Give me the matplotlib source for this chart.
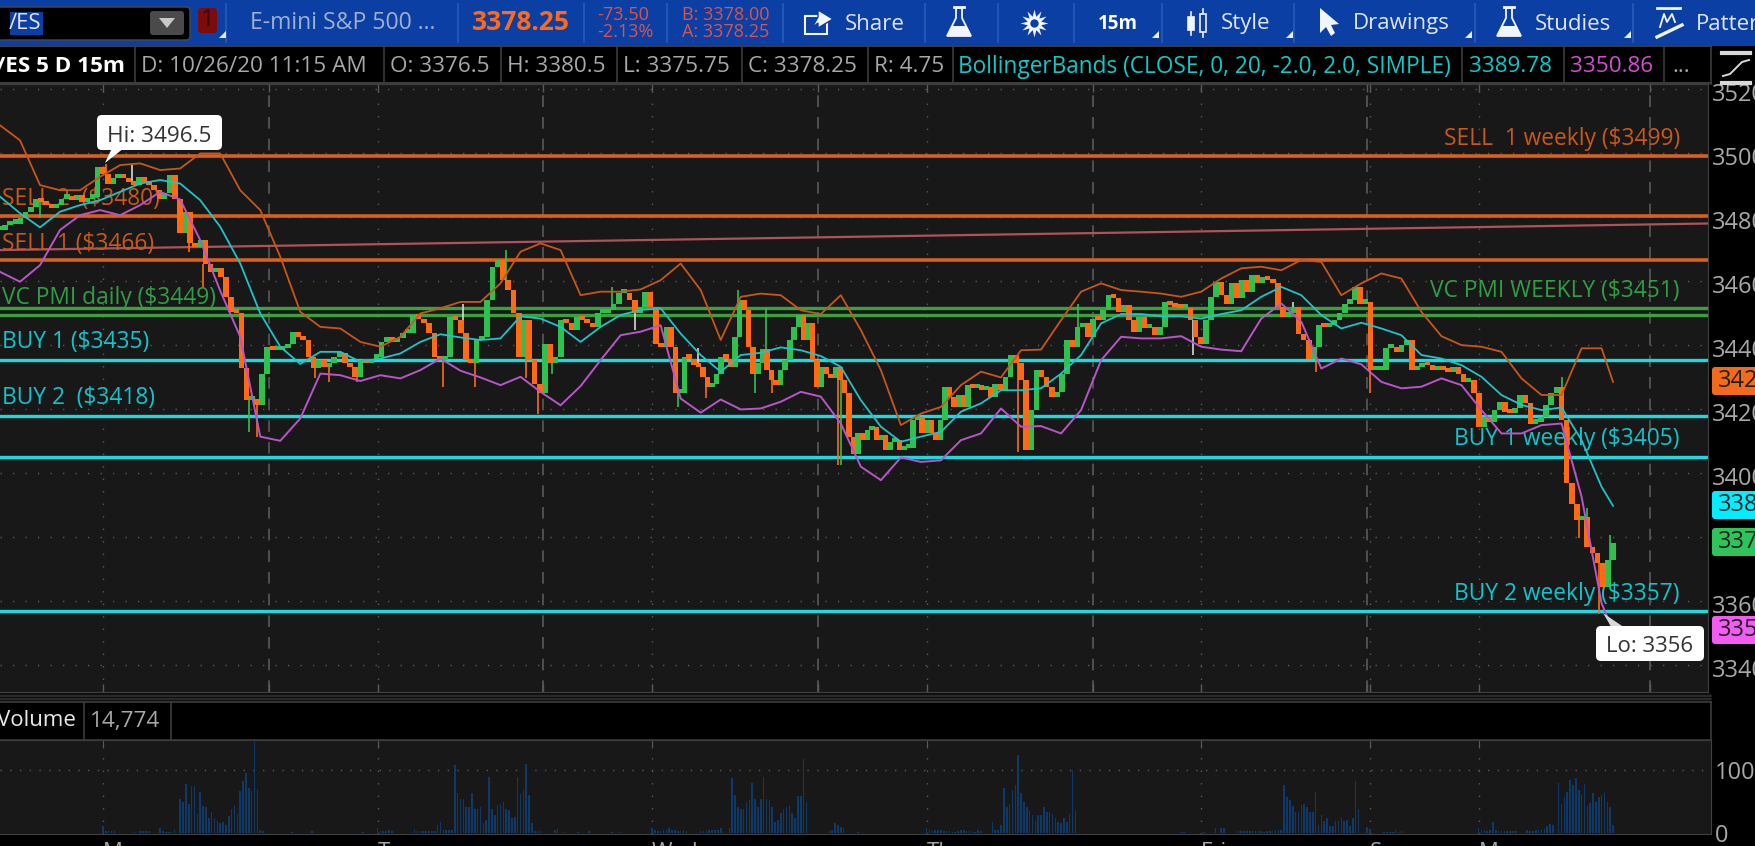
import numpy as np
import matplotlib
matplotlib.use("Agg")
import matplotlib.pyplot as plt
from matplotlib.patches import Rectangle, FancyBboxPatch, Polygon
from matplotlib.transforms import Affine2D, ScaledTranslation

plt.rcParams['font.family'] = ['Open Sans', 'DejaVu Sans']

# candle closes, one stretch of the chart per list (each spans seg_bars[i] to seg_bars[i+1])
seg_bars = [0, 115, 233, 348, 463, 564]
close_1 = [3476.0, 3477.5, 3478.0, 3478.0, 3479.6, 3481.7, 3483.2, 3485.8, 3484.8, 3483.75, 3482.7, 3483.75,
           3485.8, 3486.4, 3485.3, 3486.9, 3484.8, 3485.8, 3486.4, 3495.7, 3493.6, 3490.5, 3492.1, 3493.1,
           3492.1, 3491.0, 3490.0, 3492.6, 3491.0, 3490.0, 3488.4, 3485.8, 3487.4, 3493.1, 3485.8, 3474.9,
           3481.7, 3471.8, 3470.7, 3472.8, 3465.5, 3462.9, 3464.0, 3461.3, 3455.1, 3450.4, 3449.9, 3432.7,
           3422.8, 3423.3, 3421.2, 3431.1, 3439.5, 3438.4, 3438.4, 3439.0, 3440.5, 3444.2, 3442.6, 3441.6,
           3436.4, 3432.7, 3435.3, 3433.2]
close_2 = [3434.3, 3436.4, 3437.4, 3434.3, 3433.2, 3430.1, 3435.3, 3434.3, 3435.8, 3436.4, 3441.0, 3442.6,
           3441.0, 3442.1, 3443.7, 3443.7, 3449.4, 3448.3, 3446.8, 3443.7, 3436.4, 3435.3, 3436.4, 3448.9,
           3447.8, 3443.7, 3435.3, 3434.3, 3441.6, 3442.6, 3454.0, 3464.5, 3466.6, 3460.3, 3457.2, 3449.9,
           3436.4, 3447.8, 3435.3, 3428.0, 3424.9, 3440.5, 3434.3, 3436.4, 3447.8, 3446.8, 3444.7, 3448.9,
           3447.8, 3446.8, 3445.7, 3449.9, 3449.9, 3451.0, 3453.0, 3456.2, 3456.2, 3454.0, 3449.9, 3452.0,
           3456.7, 3452.0, 3440.5, 3439.5]
close_3 = [3445.7, 3439.5, 3424.9, 3424.9, 3436.4, 3435.8, 3433.7, 3433.2, 3430.1, 3427.0, 3428.0, 3431.1,
           3436.4, 3435.8, 3433.2, 3442.6, 3454.1, 3450.9, 3439.5, 3431.1, 3434.3, 3438.9, 3432.2, 3429.0,
           3427.5, 3432.2, 3435.3, 3441.6, 3445.7, 3449.4, 3441.6, 3446.8, 3435.3, 3427.0, 3433.2, 3431.1,
           3429.6, 3433.2, 3429.0, 3424.9, 3411.3, 3406.1, 3412.4, 3410.3, 3413.4, 3414.5, 3410.3, 3411.9,
           3407.2, 3409.8, 3410.3, 3407.2, 3407.7, 3407.7, 3416.6, 3417.6, 3412.4, 3416.6, 3412.4, 3410.3,
           3416.6, 3427.0, 3423.9, 3420.7, 3424.4, 3420.7, 3427.5, 3426.5, 3427.5, 3426.0, 3427.0, 3423.9]
close_4 = [3428.0, 3425.9, 3430.1, 3436.9, 3434.3, 3429.0, 3407.2, 3419.7, 3432.2, 3430.1, 3427.0, 3423.8,
           3425.4, 3431.1, 3441.6, 3439.5, 3445.7, 3446.8, 3442.6, 3448.3, 3447.8, 3450.9, 3455.6, 3454.6,
           3450.4, 3452.5, 3447.8, 3444.2, 3448.9, 3445.2, 3445.7, 3443.1, 3445.7, 3453.5, 3452.5, 3452.0,
           3451.5, 3451.5, 3447.8, 3442.6, 3440.5, 3447.8, 3455.1, 3459.8, 3455.6, 3453.0, 3459.3, 3454.6,
           3460.3, 3456.7, 3461.9, 3459.3, 3461.4, 3460.3, 3459.3, 3452.0, 3448.9, 3449.9, 3452.0, 3443.6,
           3441.6, 3435.8, 3439.5, 3446.2]
close_5 = [3445.7, 3446.25, 3447.8, 3449.9, 3453.0, 3454.1, 3458.2, 3453.0, 3453.5, 3432.2, 3432.2, 3432.2,
           3439.0, 3439.5, 3437.9, 3440.0, 3441.6, 3432.2, 3433.2, 3434.3, 3433.75, 3432.2, 3432.7, 3432.2,
           3431.7, 3433.2, 3431.1, 3428.5, 3429.1, 3424.9, 3414.5, 3417.6, 3416.0, 3419.7, 3422.3, 3419.2,
           3418.7, 3420.2, 3424.4, 3421.8, 3415.5, 3416.0, 3417.6, 3421.3, 3424.9, 3427.0, 3416.6, 3396.8,
           3390.5, 3385.3, 3386.4, 3377.0, 3374.9, 3371.8, 3364.5, 3372.8, 3378.25]

# long wicks: bar number and price reached
wick_orange_bars = [37, 66, 71, 90, 110, 115, 125, 155, 166, 184, 188, 247, 270, 293, 356, 375, 460, 479, 559, 552]
wick_orange_tips = [3496.5, 3469.2, 3458.2, 3411.3, 3429.6, 3428.5, 3428.5, 3427.0, 3427.0, 3429.6, 3418.6,
                    3423.6, 3424.9, 3402.5, 3406.7, 3439.5, 3431.7, 3424.9, 3356.0, 3379.6]
wick_green_bars = [14, 87, 177, 172, 193, 214, 237, 258, 264, 268, 294, 363, 377, 546, 555, 563]
wick_green_tips = [3479.6, 3412.9, 3469.7, 3458.2, 3431.0, 3458.2, 3420.7, 3457.2, 3424.9, 3451.5, 3402.5,
                   3419.7, 3453.0, 3430.1, 3389.0, 3380.6]
wick_white_bars = [46, 162, 222, 244, 417, 452]
wick_white_tips = [3496.25, 3453.0, 3444.6, 3439.0, 3436.9, 3453.5]

# bollinger bands, read every 7 bars plus the last bar
bb_bars = list(range(0, 561, 7)) + [564]
bb_upper = [3508.7, 3504.0, 3490.0, 3488.4, 3488.4, 3492.6, 3496.25, 3496.8, 3494.7, 3495.2, 3499.9, 3499.9,
            3488.4, 3482.2, 3467.6, 3450.4, 3445.7, 3445.2, 3441.0, 3439.5, 3442.6, 3449.9, 3451.5, 3453.5,
            3453.5, 3459.3, 3469.2, 3471.8, 3469.7, 3455.6, 3456.7, 3456.7, 3457.4, 3460.3, 3465.5, 3457.2,
            3441.6, 3455.1, 3456.1, 3455.6, 3450.9, 3449.7, 3455.6, 3444.7, 3432.2, 3415.0, 3418.6, 3420.7,
            3427.5, 3431.7, 3429.9, 3438.4, 3438.6, 3447.8, 3456.7, 3459.3, 3457.2, 3456.7, 3456.1, 3455.1,
            3456.7, 3460.8, 3464.0, 3464.5, 3463.4, 3466.6, 3466.0, 3455.6, 3459.3, 3462.4, 3460.8, 3450.4,
            3442.8, 3440.0, 3439.5, 3437.9, 3429.6, 3424.4, 3424.4, 3439.0, 3439.0, 3428.5]
bb_mid = [3486.4, 3481.2, 3476.8, 3481.7, 3483.75, 3485.3, 3487.9, 3490.5, 3491.6, 3490.5, 3485.3, 3477.0,
          3465.5, 3449.9, 3439.5, 3434.1, 3437.9, 3437.9, 3434.8, 3435.8, 3437.4, 3441.0, 3443.4, 3442.4,
          3441.6, 3442.1, 3449.0, 3448.3, 3445.7, 3441.0, 3445.7, 3449.4, 3451.0, 3451.5, 3443.6, 3436.9,
          3431.7, 3436.9, 3437.6, 3439.3, 3438.4, 3436.6, 3433.2, 3422.8, 3414.5, 3409.8, 3411.4, 3412.9,
          3419.2, 3421.8, 3425.9, 3425.9, 3426.5, 3431.1, 3436.9, 3446.8, 3449.7, 3449.7, 3449.0, 3449.0,
          3448.3, 3449.7, 3450.9, 3455.1, 3458.2, 3455.6, 3449.4, 3445.2, 3447.0, 3445.2, 3443.1, 3436.9,
          3435.8, 3433.75, 3430.1, 3424.4, 3421.3, 3419.7, 3420.5, 3410.3, 3395.7, 3389.78]
bb_lower = [3462.9, 3459.8, 3465.0, 3476.0, 3480.6, 3482.2, 3480.6, 3483.75, 3487.9, 3485.5, 3472.8, 3457.0,
            3442.6, 3411.4, 3410.1, 3417.1, 3431.1, 3430.6, 3428.8, 3430.6, 3429.6, 3432.2, 3435.8, 3432.0,
            3429.9, 3427.5, 3430.1, 3425.4, 3421.2, 3427.2, 3435.3, 3443.1, 3444.2, 3446.2, 3423.3, 3418.9,
            3423.0, 3419.9, 3420.2, 3422.3, 3425.4, 3423.9, 3415.5, 3402.0, 3397.8, 3404.9, 3403.5, 3404.0,
            3410.3, 3412.4, 3420.2, 3414.5, 3414.7, 3412.4, 3419.7, 3435.3, 3442.6, 3442.1, 3442.1, 3442.8,
            3439.5, 3438.6, 3438.1, 3448.3, 3453.0, 3447.3, 3432.7, 3435.8, 3434.0, 3428.5, 3426.5, 3427.0,
            3429.6, 3427.5, 3419.7, 3412.4, 3412.4, 3415.0, 3415.5, 3392.6, 3359.3, 3350.86]

# price levels drawn on the chart
sell_levels = [3499, 3480.5, 3466.5]
pmi_levels = [3451.5, 3449.5]
buy_levels = [3435.5, 3418, 3405, 3357]
trend_bars = [0, 597]
trend_prices = [3469.7, 3478.0]

# volume, each list starts at the matching bar in vol_starts
vol_starts = [36, 47, 56, 63, 102, 109, 118, 127, 132, 145, 153, 194, 197, 214, 228, 245,
              255, 290, 300, 324, 347, 376, 413, 421, 433, 478, 484, 517, 534, 545]
vol_lists = [[11, 3, 3, 3, 3], [2, 0, 3, 3, 3, 3], [8, 3, 2, 2, 2, 6],
             [55, 49, 78, 47, 75, 75, 30, 66, 43, 41, 24, 33, 24, 20, 17, 18, 13, 27, 38, 45, 30, 67, 83, 95, 71, 67, 145, 68, 6, 4],
             [2], [4], [1], [2],
             [9, 3, 3, 4, 5, 3], [5, 4, 3, 3, 3, 3, 3, 4],
             [13, 18, 6, 6, 6, 6, 108, 64, 55, 55, 41, 42, 64, 39, 39, 42, 16, 21, 89, 38, 29, 45, 47, 49, 38, 37, 24, 26, 89, 62, 68, 110, 60, 16, 3, 3, 3],
             [6, 7], [2, 0, 0, 0, 0, 2, 0, 0, 0, 4], [2, 0, 0, 2],
             [8, 6, 4, 4, 5, 5, 9, 5, 5, 4, 4, 5, 3], [4, 4, 4, 6, 6, 5, 6, 9],
             [9, 87, 60, 42, 38, 39, 50, 53, 79, 55, 42, 55, 89, 55, 53, 42, 18, 21, 32, 39, 42, 43, 32, 24, 59, 59, 118, 50],
             [3, 5, 16, 14, 10, 8], [2],
             [9, 5, 4, 5, 5, 6, 4, 3, 3, 2, 2, 3, 6, 6, 3, 3, 2, 2, 6, 3],
             [18, 5, 5, 13, 71, 42, 47, 68, 77, 124, 64, 50, 42, 36, 29, 20, 29, 29, 41, 33, 33, 30, 25, 18, 16, 24, 18, 30, 100, 37],
             [1], [2, 2, 1], [2, 0, 0, 0, 9, 0, 9, 8],
             [3, 3, 3, 3, 3, 3, 3, 3, 3, 2, 3, 3, 3, 6, 6, 6, 77, 58, 52, 43, 33, 33, 45, 47, 42, 34, 34, 66, 13, 29, 20, 24, 12, 12, 19, 19, 24, 19, 21, 12, 24, 83, 38],
             [10, 7], [2, 2, 2, 2, 5, 2, 3],
             [9, 6, 5, 4, 5, 18, 6, 4, 3, 3, 3, 3, 3, 3],
             [5, 3, 3, 6, 6, 5, 7, 12, 15, 13],
             [80, 47, 57, 66, 85, 76, 88, 68, 60, 78, 44, 48, 63, 50, 57, 60, 64, 50, 42, 13]]

day_bars = [36, 132, 228, 324, 420, 479, 517]
day_names = ['Mon', 'Tue', 'Wed', 'Thu', 'Fri', 'Sun', 'Mon']
noon_bars = [94, 190, 286, 382, 478, 577]
price_ticks = [3520, 3500, 3480, 3460, 3440, 3420, 3400, 3380, 3360, 3340]

ORANGE = '#ff6a13'
GREEN = '#30c050'
LEVEL_ORANGE = '#d8601a'
LEVEL_GREEN = '#3aa040'
CYAN = '#18dce0'
BG = '#181818'
GRID = '#5a5a5a'
FG = '#a8a8a8'
W, H = 1756, 846
BAR_PX = 2.86

fig = plt.figure(figsize=(W / 100, H / 100), dpi=100, facecolor='black')
pix = Affine2D().scale(1, -1).translate(0, H)


def box(l, t, r, b):
    return [l / W, 1 - b / H, (r - l) / W, (b - t) / H]


xlim = (0, 1708 / BAR_PX)
ax = fig.add_axes(box(0, 84, 1708, 692), facecolor=BG)
ax.set_xlim(xlim)
ax.set_ylim(3331.6, 3521.6)

# grid
for b in day_bars:
    ax.axvline(b, color=GRID, lw=1, ls=(0, (1, 8)), zorder=1)
for b in noon_bars:
    ax.axvline(b, color=GRID, lw=1.2, ls=(0, (7, 6)), zorder=1)
for p in price_ticks:
    ax.axhline(p, color=GRID, lw=1, ls=(0, (1, 8)), zorder=1)

# level lines
ax.plot(trend_bars, trend_prices, color='#b0525a', lw=1.6, zorder=2)
for p in sell_levels:
    ax.axhline(p, color=LEVEL_ORANGE, lw=2.6, zorder=2)
for p in pmi_levels:
    ax.axhline(p, color=LEVEL_GREEN, lw=2.4, zorder=2)
for p in buy_levels:
    ax.axhline(p, color=CYAN, lw=2.4, zorder=2)

# level labels
lab = dict(transform=pix, fontsize=16.4, va='center', zorder=2.5)
ax.text(1680, 139, 'SELL  1 weekly ($3499)', color='#c9581a', ha='right', **lab)
ax.text(1680, 291, 'VC PMI WEEKLY ($3451)', color='#2f9e44', ha='right', **lab)
ax.text(1680, 439, 'BUY 1 weekly ($3405)', color='#12c4cc', ha='right', **lab)
ax.text(1680, 594, 'BUY 2 weekly ($3357)', color='#12c4cc', ha='right', **lab)
ax.text(2, 199, 'SELL 2  ($3480)', color='#c9581a', ha='left', **lab)
ax.text(2, 244, 'SELL 1 ($3466)', color='#c9581a', ha='left', **lab)
ax.text(2, 298, 'VC PMI daily ($3449)', color='#2f9e44', ha='left', **lab)
ax.text(2, 342, 'BUY 1 ($3435)', color='#12c4cc', ha='left', **lab)
ax.text(2, 398, 'BUY 2  ($3418)', color='#12c4cc', ha='left', **lab)

# candles
segments = [close_1, close_2, close_3, close_4, close_5]
cx = np.concatenate([np.linspace(seg_bars[i], seg_bars[i + 1], len(s), endpoint=(i == 4))
                     for i, s in enumerate(segments)])
closes = np.concatenate(segments)
opens = np.r_[closes[0], closes[:-1]]


def draw_wicks(bars, tips, color):
    for b, t in zip(bars, tips):
        base = closes[np.argmin(np.abs(cx - b))]
        ax.plot([b, b], [base, t], color=color, lw=1.2, zorder=3, solid_capstyle='butt')


draw_wicks(wick_orange_bars, wick_orange_tips, ORANGE)
draw_wicks(wick_green_bars, wick_green_tips, GREEN)
draw_wicks(wick_white_bars, wick_white_tips, '#d8d8d8')

up = closes >= opens
low = np.minimum(opens, closes)
height = np.maximum(np.abs(closes - opens), 1.3)
ax.bar(cx[up], height[up], bottom=low[up], width=1.95, color=GREEN, zorder=3.2)
ax.bar(cx[~up], height[~up], bottom=low[~up], width=1.95, color=ORANGE, zorder=3.3)

# bollinger bands
ax.plot(bb_bars, bb_upper, color='#c8561a', lw=1.3, zorder=4)
ax.plot(bb_bars, bb_mid, color='#1fc4c8', lw=1.3, zorder=4)
ax.plot(bb_bars, bb_lower, color='#b855c8', lw=1.4, zorder=4)

ax.set_xticks(day_bars + noon_bars)
ax.set_xticklabels([])
ax.tick_params(axis='x', direction='in', top=True, bottom=True, length=6, color=GRID, width=1)
ax.yaxis.tick_right()
ax.set_yticks(price_ticks)
ax.set_yticklabels([str(p) for p in price_ticks], color=FG, fontsize=17)
ax.tick_params(axis='y', length=0, pad=3)
down = ScaledTranslation(0, -2 / 72, fig.dpi_scale_trans)
for t in ax.get_yticklabels():
    t.set_transform(t.get_transform() + down)
for s in ax.spines.values():
    s.set_color('#404040')
ax.spines['left'].set_visible(False)

# volume panel
vax = fig.add_axes(box(0, 740, 1711, 834), facecolor=BG)
vax.set_xlim(0, 1711 / BAR_PX)
vax.set_ylim(-1, 147.5)
for start, vals in zip(vol_starts, vol_lists):
    vax.bar(np.arange(start, start + len(vals)), vals, width=0.55, color='#0d3a6a', zorder=3)
for b in day_bars:
    vax.axvline(b, color=GRID, lw=1, ls=(0, (1, 8)), zorder=1)
vax.axhline(100, color=GRID, lw=1, ls=(0, (1, 6)), zorder=1)
vax.set_xticks(day_bars)
vax.set_xticklabels([])
vax.tick_params(axis='x', direction='in', top=True, bottom=False, length=6, color=GRID)
vax.yaxis.tick_right()
vax.set_yticks([0, 100])
vax.set_yticklabels(['0', '100'], color=FG, fontsize=17)
vax.tick_params(axis='y', length=0, pad=3)
for s in vax.spines.values():
    s.set_color('#404040')
vax.spines['left'].set_visible(False)

# everything around the chart goes on a full figure overlay in pixels
ov = fig.add_axes([0, 0, 1, 1], facecolor='none', zorder=5)
ov.set_xlim(0, W)
ov.set_ylim(H, 0)
ov.axis('off')


def rect(l, t, r, b, **kw):
    ov.add_patch(Rectangle((l, t), r - l, b - t, **kw))


def rounded(l, t, r, b, color, rad=4, ec='none', z=6):
    ov.add_patch(FancyBboxPatch((l + rad, t + rad), r - l - 2 * rad, b - t - 2 * rad,
                                boxstyle='round,pad=%d,rounding_size=%d' % (rad, rad),
                                fc=color, ec=ec, zorder=z))


# toolbar
TOOL = '#0b3fa3'
SEP = '#2a5bb8'
rect(0, 0, W, 46, fc=TOOL, ec='none')
for x in [226, 458, 584, 667, 783, 925, 998, 1074, 1162, 1294, 1475, 1633]:
    ov.plot([x, x], [4, 42], color=SEP, lw=1.2)
rounded(-6, 7, 190, 40, 'black', rad=4, ec='#4a4a4a')
rect(10, 12, 43, 35, fc='#0b3fa3', ec='none', zorder=7)
ov.text(9, 23.5, '/ES', color='#e6e6e6', fontsize=16, va='center', zorder=8)
rounded(150, 11, 184, 35, '#4a4a4a', rad=3, z=7)
ov.add_patch(Polygon([[159, 18], [175, 18], [167, 28]], fc='#c8c8c8', ec='none', zorder=8))
rounded(198, 8, 217, 33, '#7c0c0c', rad=3)
ov.text(207.5, 20.5, '1', color='#3a0808', fontsize=17, ha='center', va='center', zorder=8)
for x in [219, 1152, 1286, 1465, 1624]:
    ov.add_patch(Polygon([[x + 7, 31], [x + 7, 38], [x, 38]], fc='#e8eef8', ec='none', zorder=7))

ov.text(250, 23, 'E-mini S&P 500 ...', color='#9fb0cc', fontsize=16.6, va='center')
ov.text(472, 23, '3378.25', color='#ff6a1a', fontsize=19, fontweight='bold', va='center')
ov.text(597, 15, '-73.50', color='#d9534f', fontsize=13, va='center')
ov.text(597, 32, '-2.13%', color='#d9534f', fontsize=13, va='center')
ov.text(682, 15, 'B: 3378.00', color='#d9534f', fontsize=13, va='center')
ov.text(682, 32, 'A: 3378.25', color='#d9534f', fontsize=13, va='center')
btn = dict(color='#dfe6f2', fontsize=16, va='center')
ov.text(845, 24, 'Share', **btn)
ov.text(1098, 24, '15m', color='white', fontsize=13.5, fontweight='bold', va='center')
ov.text(1221, 24, 'Style', **btn)
ov.text(1353, 24, 'Drawings', **btn)
ov.text(1535, 24, 'Studies', **btn)
ov.text(1696, 24, 'Patterns', clip_on=True, **btn)

# toolbar icons
ICON = '#f2f5fa'
ov.add_patch(Rectangle((805, 16), 22, 18, fc='none', ec=ICON, lw=1.5))
ov.add_patch(Polygon([[812, 28], [818, 17], [818, 10], [833, 19], [818, 28], [818, 23]], fc=ICON, ec=TOOL, lw=1))
for fx in [959, 1509]:
    ov.plot([fx - 5, fx + 5], [7, 7], color=ICON, lw=2)
    ov.add_patch(Polygon([[fx - 3, 8], [fx + 3, 8], [fx + 3, 18], [fx + 12, 36], [fx - 12, 36], [fx - 3, 18]],
                         fc='none', ec=ICON, lw=1.3))
    ov.add_patch(Polygon([[fx - 7, 26], [fx + 7, 26], [fx + 12, 36], [fx - 12, 36]], fc=ICON, ec='none'))
ov.plot([1034], [23], marker=(12, 1, 0), ms=20, color=ICON, mew=0)
ov.plot([1034], [23], marker='o', ms=6, color=TOOL, mew=0)
for cxx, t, b in [(1191, 17, 30), (1203, 14, 32)]:
    ov.plot([cxx, cxx], [t - 5, b + 5], color=ICON, lw=1.2)
    ov.add_patch(Rectangle((cxx - 3, t), 6, b - t, fc=ICON if cxx < 1200 else TOOL, ec=ICON, lw=1.2, zorder=4))
ov.add_patch(Polygon([[1320, 8], [1320, 33], [1326, 27], [1331, 36], [1335, 33], [1331, 25], [1339, 24]], fc=ICON, ec='none'))
ov.plot([1657, 1680], [8, 8], color=ICON, lw=2)
ov.plot([1660, 1664, 1667, 1672, 1675], [27, 14, 22, 14, 22], color=ICON, lw=1.3)
ov.plot([1657, 1682], [37, 25], color=ICON, lw=2.4)

# info row
rect(0, 47, 1708, 83, fc='black', ec='none')
rect(1708, 47, W, 84, fc='black', ec='none')
ov.plot([0, 1711], [46.5, 46.5], color='#3c3c3c', lw=1.5)
ov.plot([0, 1711], [83.5, 83.5], color='#3c3c3c', lw=1.5)
for x in [135, 384, 501, 617, 742, 868, 953, 1462, 1564, 1664]:
    ov.plot([x, x], [47, 83], color='#3c3c3c', lw=1.2)
ov.plot([1711, 1711], [47, 84], color='#3c3c3c', lw=1.2)
info = dict(color=FG, fontsize=16.2, va='center')
ov.text(125, 67, '/ES 5 D 15m', color='white', fontsize=16.2, fontweight='bold', va='center', ha='right')
ov.text(141, 67, 'D: 10/26/20 11:15 AM', **info)
ov.text(390, 67, 'O: 3376.5', **info)
ov.text(507, 67, 'H: 3380.5', **info)
ov.text(623, 67, 'L: 3375.75', **info)
ov.text(748, 67, 'C: 3378.25', **info)
ov.text(874, 67, 'R: 4.75', **info)
ov.text(958, 67, 'BollingerBands (CLOSE, 0, 20, -2.0, 2.0, SIMPLE)', color='#12c8c8', fontsize=16.3, va='center')
ov.text(1469, 67, '3389.78', color='#12c8c8', fontsize=16.2, va='center')
ov.text(1570, 67, '3350.86', color='#d050d0', fontsize=16.2, va='center')
ov.text(1672, 67, '...', **info)

# curve button at top of the price scale
ov.plot([1722, 1750], [53, 53], color='#d8d8d8', lw=3)
ov.plot([1722, 1750], [83, 83], color='#d8d8d8', lw=3)
ov.plot([1723, 1730, 1736, 1742, 1749], [76, 74, 68, 62, 60], color='#d8d8d8', lw=1.4)

# strip between the chart and volume
rect(0, 693, 1711, 702, fc='#101010', ec='none')
ov.plot([0, 1711], [696, 696], color='#303030', lw=1.2)
ov.plot([0, 1711], [699, 699], color='#303030', lw=1.2)

# volume header
rect(0, 702, 1711, 740, fc='black', ec='none')
ov.plot([0, 1711], [702, 702], color='#3c3c3c', lw=1.2)
ov.plot([0, 1711], [740, 740], color='#3c3c3c', lw=1.2)
for x in [84, 171, 1711]:
    ov.plot([x, x], [702, 740], color='#3c3c3c', lw=1.2)
ov.text(76, 721, 'Volume', color='#e8e8e8', fontsize=16, ha='right', va='center')
ov.text(90, 721, '14,774', **info)

# day letters are cut by the bottom of the screenshot
for b, name in zip(day_bars, day_names):
    ov.text(b * BAR_PX, 842, name, color=FG, fontsize=16, va='top', ha='left')

# last value bubbles on the price scale
for y, col, txt in [(381, '#f26a1b', '3428.50'), (505, '#00eeff', '3389.78'),
                    (542, '#2fc45a', '3378.25'), (630, '#f25cf0', '3350.86')]:
    rounded(1712, y - 14, 1770, y + 14, col, rad=3)
    ov.text(1718, y, txt, color='#202020', fontsize=17, va='center', zorder=8)

# high / low callouts
ov.add_patch(Polygon([[112, 148], [124, 148], [105, 163]], fc='white', ec='none', zorder=6))
rounded(97, 115, 222, 150, 'white', rad=5)
ov.text(159.5, 137, 'Hi: 3496.5', color='#333333', fontsize=16.2, ha='center', va='center', zorder=8)
ov.add_patch(Polygon([[1612, 628], [1625, 628], [1603, 613]], fc='#d8d8d8', ec='none', zorder=6))
rounded(1596, 626, 1704, 661, 'white', rad=5)
ov.text(1650, 647, 'Lo: 3356', color='#333333', fontsize=16, ha='center', va='center', zorder=8)

fig.savefig('out.png', dpi=100, facecolor='black')
